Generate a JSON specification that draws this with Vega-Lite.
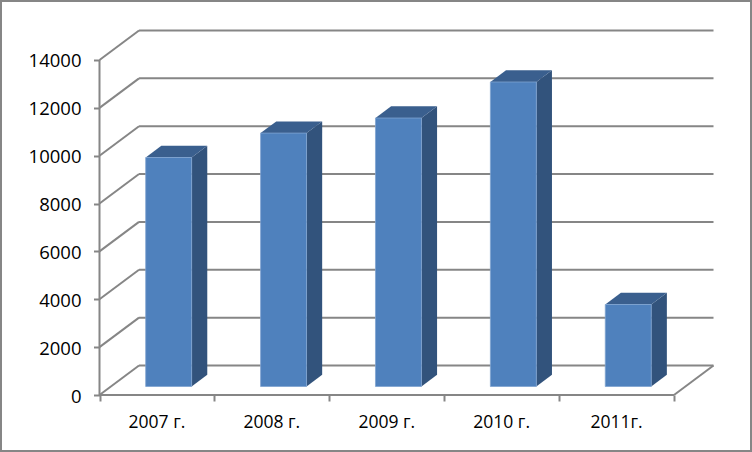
{
"$schema":"https://vega.github.io/schema/vega-lite/v6.json",
"width":752,"height":452,"padding":0,"autosize":{"type":"none"},
"background":"white",
"view":{"stroke":"#868686","strokeWidth":4,"fill":"white"},
"config":{"font":"Open Sans"},
"datasets":{
"bars":[{"year":"2007 г.","i":0,"value":9570},{"year":"2008 г.","i":1,"value":10590},{"year":"2009 г.","i":2,"value":11220},{"year":"2010 г.","i":3,"value":12725},{"year":"2011г.","i":4,"value":3427}],
"ticks":[{"v":0},{"v":2000},{"v":4000},{"v":6000},{"v":8000},{"v":10000},{"v":12000},{"v":14000}]
},
"resolve":{"scale":{"x":"independent"},"axis":{"x":"independent"}},
"layer":[
{"layer":[
{"data":{"name":"ticks"},"transform":[{"calculate":"datum.v+1233","as":"back"}],
 "mark":{"type":"rule","stroke":"#868686","strokeWidth":2},
 "encoding":{
  "x":{"datum":0,"type":"quantitative","scale":{"domain":[-0.866,5.679],"nice":false,"zero":false},"axis":{"values":[0,1,2,3,4,5],"labels":false,"title":null,"grid":false,"domain":false,"tickSize":6,"tickColor":"#868686","tickWidth":2,"offset":-57,"orient":"bottom"}},
  "x2":{"datum":0.344},
  "y":{"field":"v","type":"quantitative","scale":{"domain":[-2382,16507],"nice":false,"zero":false},"axis":{"values":[0,2000,4000,6000,8000,10000,12000,14000],"format":"d","title":null,"grid":false,"domain":false,"tickSize":6,"tickColor":"#868686","tickWidth":2,"offset":-99.5,"labelFont":"Open Sans","labelFontSize":18.5,"labelColor":"#000000","labelPadding":12.5,"labelBaseline":"middle","labelOffset":1}},
  "y2":{"field":"back"}}},
{"data":{"name":"ticks"},"transform":[{"calculate":"datum.v+1233","as":"back"}],
 "mark":{"type":"rule","stroke":"#868686","strokeWidth":2},
 "encoding":{"x":{"datum":0.344,"type":"quantitative"},"x2":{"datum":5.344},"y":{"field":"back","type":"quantitative"}}},
{"data":{"values":[{"v":0,"w":14000}]},
 "mark":{"type":"rule","stroke":"#868686","strokeWidth":2},
 "encoding":{"x":{"datum":0,"type":"quantitative"},"y":{"field":"v","type":"quantitative"},"y2":{"field":"w"}}},
{"data":{"values":[{"v":0}]},
 "mark":{"type":"rule","stroke":"#868686","strokeWidth":2},
 "encoding":{"x":{"datum":0,"type":"quantitative"},"x2":{"datum":5},"y":{"field":"v","type":"quantitative"}}},
{"data":{"values":[{"v":0,"w":1233}]},
 "mark":{"type":"rule","stroke":"#868686","strokeWidth":2},
 "encoding":{"x":{"datum":5,"type":"quantitative"},"x2":{"datum":5.344},"y":{"field":"v","type":"quantitative"},"y2":{"field":"w"}}},
{"data":{"name":"bars"},
 "transform":[{"calculate":"[0,1]","as":"t"},{"flatten":["t"]},
  {"calculate":"datum.i+0.802+datum.t*0.136","as":"px"},
  {"calculate":"355+datum.t*489","as":"lo"},
  {"calculate":"355+datum.value+datum.t*489","as":"hi"}],
 "mark":{"type":"area","color":"#32537C","orient":"vertical"},
 "encoding":{"x":{"field":"px","type":"quantitative"},"y":{"field":"lo","type":"quantitative","stack":null},"y2":{"field":"hi"},"detail":{"field":"year"}}},
{"data":{"name":"bars"},
 "transform":[{"calculate":"[0,1]","as":"t"},{"flatten":["t"]},
  {"calculate":"datum.i+0.402+datum.t*0.136","as":"l"},
  {"calculate":"datum.i+0.802+datum.t*0.136","as":"r"},
  {"calculate":"355+datum.value+datum.t*489","as":"h"}],
 "mark":{"type":"area","color":"#3A5F8E","orient":"horizontal"},
 "encoding":{"y":{"field":"h","type":"quantitative"},"x":{"field":"l","type":"quantitative","stack":null},"x2":{"field":"r"},"detail":{"field":"year"}}},
{"data":{"name":"bars"},
 "transform":[{"calculate":"datum.i+0.402","as":"l"},{"calculate":"datum.i+0.802","as":"r"},{"calculate":"355","as":"b"},{"calculate":"355+datum.value","as":"h"}],
 "mark":{"type":"rect","color":"#4F81BD","stroke":"#7FA3D0","strokeWidth":0.8},
 "encoding":{"x":{"field":"l","type":"quantitative"},"x2":{"field":"r"},"y":{"field":"b","type":"quantitative"},"y2":{"field":"h"}}}
]},
{"data":{"name":"bars"},
 "mark":{"type":"bar","opacity":0},
 "encoding":{
  "x":{"field":"year","type":"nominal","sort":null,"scale":{"type":"band","range":[99.5,674]},"axis":{"title":null,"orient":"bottom","offset":-57,"ticks":false,"domain":false,"labelAngle":0,"labelFont":"Open Sans","labelFontSize":17.5,"labelColor":"#000000","labelPadding":18,"grid":false}},
  "y":{"field":"value","type":"quantitative"}}}
]
}
